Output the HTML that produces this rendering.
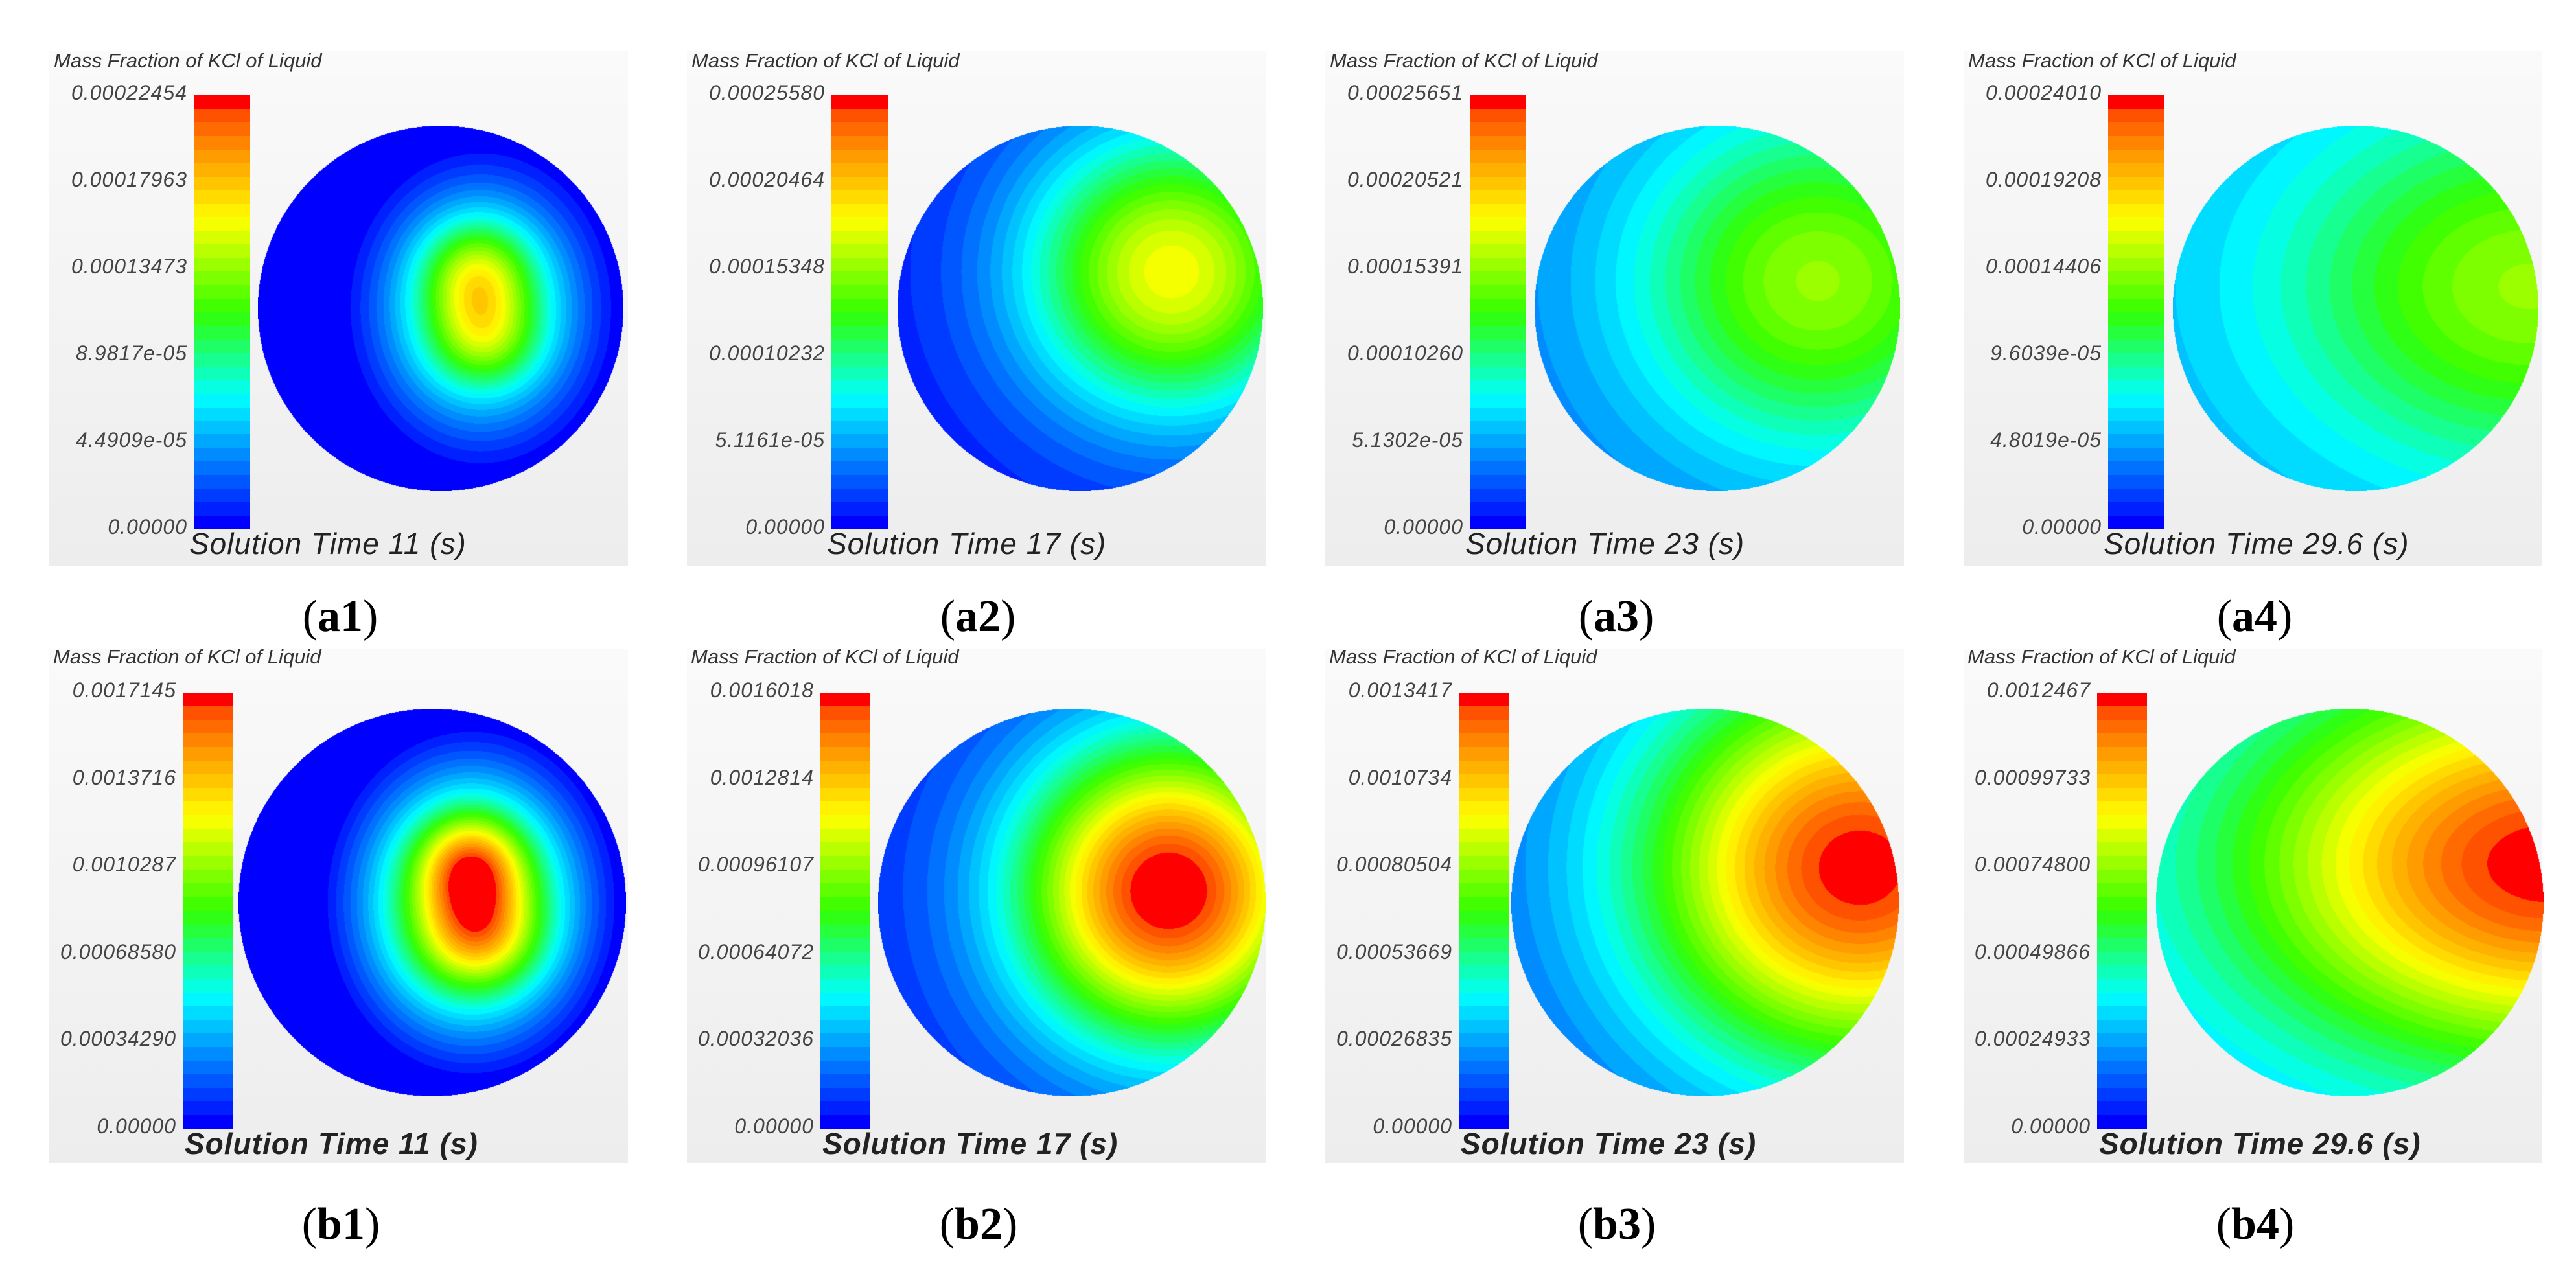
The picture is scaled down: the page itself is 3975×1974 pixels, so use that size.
<!DOCTYPE html>
<html><head><meta charset="utf-8">
<style>
body{margin:0;background:#fff;width:3975px;height:1974px;position:relative;overflow:hidden;font-family:"Liberation Sans",sans-serif}
.box{position:absolute;width:893px;background:linear-gradient(#fafafa,#ededed)}
.ttl{position:absolute;font-style:italic;color:#333;font-size:31px;white-space:nowrap}
.tick{position:absolute;font-style:italic;color:#444;font-size:32px;text-align:right;width:240px;letter-spacing:1px}
.sol{position:absolute;font-style:italic;color:#222;font-size:46px;white-space:nowrap;letter-spacing:1px}
.lab{position:absolute;font-family:"Liberation Serif",serif;font-size:70px;width:300px;text-align:center}
canvas{position:absolute}
.cb{position:absolute;width:87px}
.cb div{width:100%}
</style></head><body>
<script>
// ---- data ----
const panelNames = ['a1','a2','a3','a4','b1','b2','b3','b4'];
const times = ['11','17','23','29.6','11','17','23','29.6'];
const tickLabels = [
 ['0.00022454','0.00017963','0.00013473','8.9817e-05','4.4909e-05','0.00000'],
 ['0.00025580','0.00020464','0.00015348','0.00010232','5.1161e-05','0.00000'],
 ['0.00025651','0.00020521','0.00015391','0.00010260','5.1302e-05','0.00000'],
 ['0.00024010','0.00019208','0.00014406','9.6039e-05','4.8019e-05','0.00000'],
 ['0.0017145','0.0013716','0.0010287','0.00068580','0.00034290','0.00000'],
 ['0.0016018','0.0012814','0.00096107','0.00064072','0.00032036','0.00000'],
 ['0.0013417','0.0010734','0.00080504','0.00053669','0.00026835','0.00000'],
 ['0.0012467','0.00099733','0.00074800','0.00049866','0.00024933','0.00000']
];
// field sources per panel: [u, v, amplitude, sigmaX, sigmaY] (normalized to circle radius), summed
const fieldBase = [-0.1, 0.03, 0.14, 0.2, -0.13, 0.05, 0.1, 0.2];
const fieldSources = [
 [[0.22,0.0,0.55,0.42,0.5],[0.2,-0.18,0.3,0.2,0.2],[0.24,0.17,0.22,0.2,0.18]],
 [[0.5,-0.2,0.68,0.58,0.56]],
 [[0.55,-0.15,0.46,0.72,0.66]],
 [[0.95,-0.12,0.4,0.95,0.7]],
 [[0.2,0.0,0.76,0.42,0.5],[0.2,-0.18,0.42,0.18,0.18],[0.24,0.17,0.3,0.2,0.18]],
 [[0.5,-0.06,0.98,0.55,0.55]],
 [[0.8,-0.18,0.9,0.8,0.72]],
 [[1.02,-0.2,0.8,1.1,0.7]]
];
const NB = 32;
const stops = [[0,[0,0,255]],[0.04,[0,40,255]],[0.3,[0,255,255]],[0.5,[50,255,0]],[0.72,[255,255,0]],[0.88,[255,150,0]],[0.97,[255,80,0]],[1,[255,0,0]]];
// ---- layout ----
const colX = [76,1060,2045,3030];
const rowY = [78,1002];
const rowH = [795,793];
function cmap(t){
  for(let i=1;i<stops.length;i++){ if(t<=stops[i][0]){const a=stops[i-1],b=stops[i];const f=(t-a[0])/(b[0]-a[0]);return a[1].map((c,j)=>Math.round(c+(b[1][j]-c)*f));}}
  return [255,0,0];
}
function bandColor(k){return cmap(k/(NB-1));}
function field(p,u,v){
  let s=fieldBase[p];
  for(const g of fieldSources[p]){const dx=(u-g[0])/g[3],dy=(v-g[1])/g[4];s+=g[2]*Math.exp(-(dx*dx+dy*dy)/2);}
  return Math.max(0,Math.min(0.9999,s));
}
function el(tag,cls,x,y,txt){const e=document.createElement(tag);if(cls)e.className=cls;e.style.left=x+'px';e.style.top=y+'px';if(txt!==undefined)e.textContent=txt;document.body.appendChild(e);return e;}
for(let p=0;p<8;p++){
  const row=p<4?0:1, col=p%4;
  const bx=colX[col], by=rowY[row];
  const box=el('div','box',bx,by);box.style.height=rowH[row]+'px';
  
  
  const t=el('div','ttl',bx+(row?6:7),by+(row?-6:-2),'Mass Fraction of KCl of Liquid');
  
  
  const cbx=bx+(row?206:223), cbTop=by+(row?67:69), cbH=(row?673:670);
  const cb=el('div','cb',cbx,cbTop);cb.style.height=cbH+'px';if(row)cb.style.width='77px';
  
  
  for(let k=NB-1;k>=0;k--){const d=document.createElement('div');d.style.height=(cbH/NB)+'px';d.style.background='rgb('+bandColor(k).join(',')+')';cb.appendChild(d);}
  for(let i=0;i<6;i++){
    const tk=el('div','tick',cbx-250,cbTop+cbH*i/5-22,tickLabels[p][i]);
    
    
  }
  const sol=el('div','sol',bx+(row?209:216),by+(row?736:734),'Solution Time '+times[p]+' (s)');
  if(row)sol.style.fontWeight='bold';
  
  
  const cxs=row?[591,594,586,596]:[604,607,605,605];
  const r=row?299:282, cx=bx+cxs[col], cy=by+(row?391:398);
  const cv=el('canvas','',cx-r,cy-r);cv.width=2*r;cv.height=2*r;
  
  
  const ctx=cv.getContext('2d');const img=ctx.createImageData(2*r,2*r);
  for(let y=0;y<2*r;y++)for(let x=0;x<2*r;x++){
    const u=(x-r+0.5)/r,v=(y-r+0.5)/r;const i=(y*2*r+x)*4;
    if(u*u+v*v>1){img.data[i+3]=0;continue;}
    const k=Math.floor(field(p,u,v)*NB);const c=bandColor(k);
    img.data[i]=c[0];img.data[i+1]=c[1];img.data[i+2]=c[2];img.data[i+3]=255;
  }
  ctx.putImageData(img,0,0);
  const lb=el('div','lab',bx+(row?450:449)-150,(row?1850:912));
  lb.innerHTML='(<b>'+panelNames[p]+'</b>)';
  
  
}
</script>
</body></html>
